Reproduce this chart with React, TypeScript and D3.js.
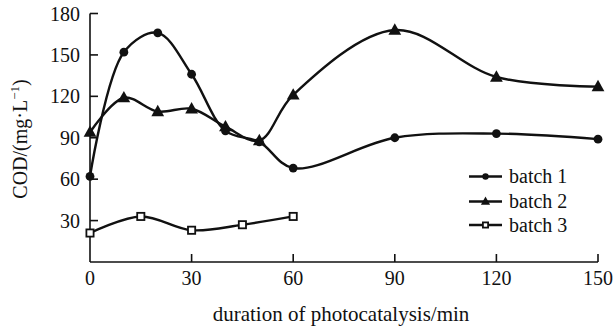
import React from "react";
import * as d3 from "d3";

const batch1X = [0, 10, 20, 30, 40, 50, 60, 90, 120, 150];
const batch1Y = [62, 152, 166, 136, 95, 87, 68, 90, 93, 89];
const batch2X = [0, 10, 20, 30, 40, 50, 60, 90, 120, 150];
const batch2Y = [94, 119, 109, 111, 98, 88, 121, 168, 134, 127];
const batch3X = [0, 15, 30, 45, 60];
const batch3Y = [21, 33, 23, 27, 33];
const xTicks = [0, 30, 60, 90, 120, 150];
const yTicks = [30, 60, 90, 120, 150, 180];
const seriesNames = ["batch 1", "batch 2", "batch 3"];

const W = 616;
const H = 330;
const FONT = "'Liberation Serif', 'Times New Roman', serif";
const INK = "#111";

export default function App() {
  const x = d3.scaleLinear().domain([0, 150]).range([90, 598]);
  const y = d3.scaleLinear().domain([0, 180]).range([262, 13.5]);
  const line = d3
    .line<[number, number]>()
    .x((d) => x(d[0]))
    .y((d) => y(d[1]))
    .curve(d3.curveCatmullRom.alpha(0.5));

  const s1 = batch1X.map((v, i) => [v, batch1Y[i]] as [number, number]);
  const s2 = batch2X.map((v, i) => [v, batch2Y[i]] as [number, number]);
  const s3 = batch3X.map((v, i) => [v, batch3Y[i]] as [number, number]);

  const tri = (cx: number, cy: number, s: number) =>
    `M${cx},${cy - s * 0.62} L${cx + s * 0.58},${cy + s * 0.42} L${cx - s * 0.58},${cy + s * 0.42} Z`;

  const marker = (k: number, cx: number, cy: number, scale = 1) => {
    if (k === 0) return <circle cx={cx} cy={cy} r={4.4 * scale} fill={INK} />;
    if (k === 1) return <path d={tri(cx, cy, 11 * scale)} fill={INK} />;
    return (
      <rect
        x={cx - 3.6 * scale}
        y={cy - 3.6 * scale}
        width={7.2 * scale}
        height={7.2 * scale}
        fill="#fff"
        stroke={INK}
        strokeWidth={1.8}
      />
    );
  };

  const series = [s1, s2, s3];
  const legendY = [176.5, 201.5, 225];

  return (
    <svg
      width={W}
      height={H}
      style={{ position: "absolute", left: 0, top: 0, background: "#fff" }}
      fontFamily={FONT}
    >
      <rect width={W} height={H} fill="#fff" />
      <line x1={x(0)} x2={x(150)} y1={y(0)} y2={y(0)} stroke={INK} strokeWidth={1.6} />
      <line x1={x(0)} x2={x(0)} y1={y(0)} y2={y(180)} stroke={INK} strokeWidth={1.6} />
      {xTicks.map((t) => (
        <g key={"xt" + t}>
          {t !== 0 && (
            <line x1={x(t)} x2={x(t)} y1={y(0)} y2={y(0) - 8} stroke={INK} strokeWidth={1.6} />
          )}
          <text x={x(t)} y={285} textAnchor="middle" fontSize={20} fill={INK}>
            {t}
          </text>
        </g>
      ))}
      {yTicks.map((t) => (
        <g key={"yt" + t}>
          <line x1={x(0)} x2={x(0) + 8} y1={y(t)} y2={y(t)} stroke={INK} strokeWidth={1.6} />
          <text x={80} y={y(t)} dy="0.35em" textAnchor="end" fontSize={20} fill={INK}>
            {t}
          </text>
        </g>
      ))}
      <text x={341} y={321} textAnchor="middle" fontSize={21} fill={INK}>
        duration of photocatalysis/min
      </text>
      <text
        transform={`translate(27,139) rotate(-90)`}
        textAnchor="middle"
        fontSize={20}
        fill={INK}
      >
        COD/(mg·L
        <tspan fontSize={13} dy={-8}>
          −1
        </tspan>
        <tspan dy={8}>)</tspan>
      </text>
      {series.map((s, k) => (
        <path key={"l" + k} d={line(s) || ""} fill="none" stroke={INK} strokeWidth={2.4} />
      ))}
      {series.map((s, k) => (
        <g key={"m" + k}>{s.map((d, i) => <g key={i}>{marker(k, x(d[0]), y(d[1]))}</g>)}</g>
      ))}
      {seriesNames.map((n, k) => (
        <g key={"lg" + k}>
          <line x1={469} x2={502} y1={legendY[k]} y2={legendY[k]} stroke={INK} strokeWidth={2.4} />
          {marker(k, 485.5, legendY[k], 0.72)}
          <text x={509} y={legendY[k]} dy="0.33em" fontSize={20} fill={INK}>
            {n}
          </text>
        </g>
      ))}
    </svg>
  );
}
